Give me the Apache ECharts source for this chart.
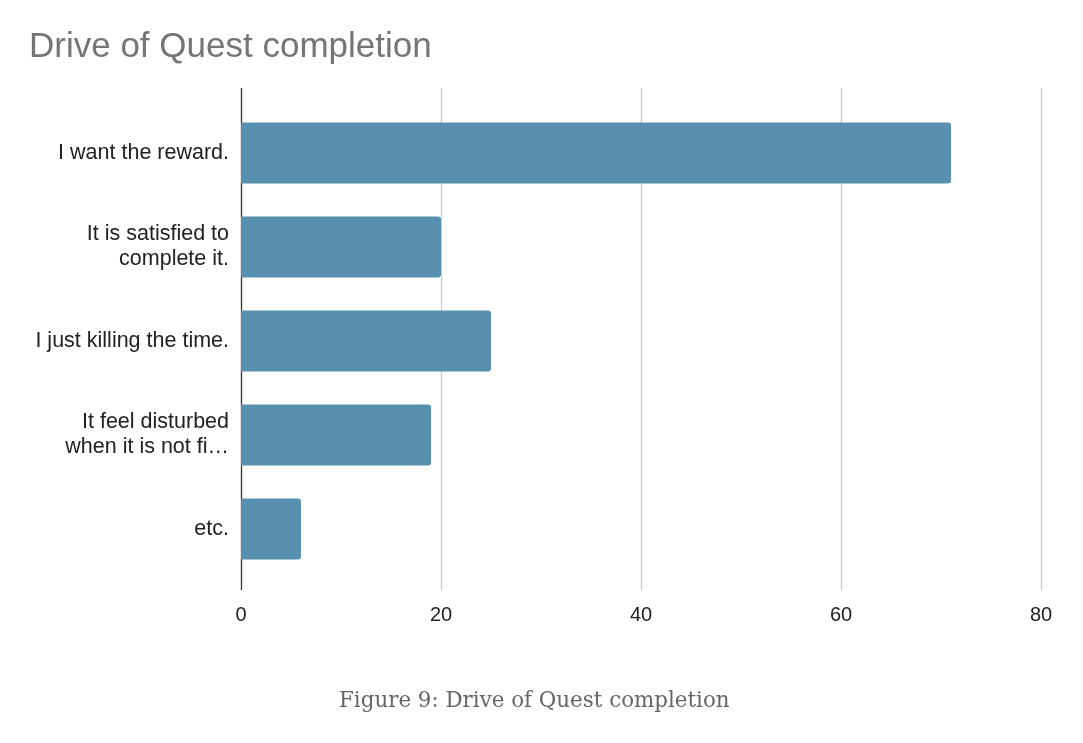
<!DOCTYPE html>
<html>
<head>
<meta charset="utf-8">
<script src="https://cdn.jsdelivr.net/npm/echarts@6/dist/echarts.min.js"></script>
<style>
  html, body { margin: 0; padding: 0; background: #fff; }
  #chart { width: 1083px; height: 743px; }
</style>
</head>
<body>
<div id="chart"></div>
<script>
const chart = echarts.init(document.getElementById("chart"));

const reasons = [
	"I want the reward.",
	"It is satisfied to\ncomplete it.",
	"I just killing the time.",
	"It feel disturbed\nwhen it is not fi…",
	"etc."
];
const counts = [71, 20, 25, 19, 6];
const xTicks = [0, 20, 40, 60, 80];

const LEFT = 241;
const RIGHT = 1083 - 1041;

option = {
	animation: false,
	backgroundColor: "#fff",
	title: [{
		text: "Drive of Quest completion",
		left: 24,
		top: 25,
		textStyle: {
			fontFamily: "Liberation Sans, Arial, sans-serif",
			fontSize: 35,
			fontWeight: "normal",
			color: "#757575"
		}
	}, {
		text: "Figure 9: Drive of Quest completion",
		left: 334,
		top: 686,
		textStyle: {
			fontFamily: "DejaVu Serif, Liberation Serif, serif",
			fontSize: 21.4,
			fontWeight: "normal",
			color: "#666"
		}
	}],
	grid: [
		// bars
		{ left: LEFT, right: RIGHT, top: 106, bottom: 743 - 576 },
		// axis lines & gridlines (taller than the bar area)
		{ left: LEFT, right: RIGHT, top: 88, bottom: 743 - 590 }
	],
	xAxis: [{
		gridIndex: 0,
		type: "value",
		min: 0,
		max: 80,
		interval: 20,
		show: false
	}, {
		gridIndex: 1,
		type: "value",
		min: 0,
		max: 80,
		interval: 20,
		axisLine: { show: false },
		axisTick: { show: false },
		axisLabel: {
			margin: 15,
			fontFamily: "Liberation Sans, Arial, sans-serif",
			fontSize: 20,
			color: "#222",
			formatter: (v) => xTicks.includes(v) ? String(v) : ""
		},
		splitLine: {
			show: true,
			lineStyle: { color: ["#333", "#ccc", "#ccc", "#ccc", "#ccc"], width: 1.3 }
		}
	}],
	yAxis: [{
		gridIndex: 0,
		type: "category",
		data: reasons,
		inverse: true,
		axisLine: { show: false },
		axisTick: { show: false },
		axisLabel: {
			margin: 12,
			fontFamily: "Liberation Sans, Arial, sans-serif",
			fontSize: 21.5,
			lineHeight: 25,
			color: "#222",
			align: "right"
		}
	}, {
		gridIndex: 1,
		type: "value",
		min: 0,
		max: 1,
		show: false
	}],
	series: [{
		type: "bar",
		xAxisIndex: 0,
		yAxisIndex: 0,
		data: counts,
		barWidth: 61,
		itemStyle: {
			color: "#5891af",
			borderRadius: [0, 3, 3, 0]
		}
	}]
};

chart.setOption(option);
window.onresize = chart.resize;
</script>
</body>
</html>
